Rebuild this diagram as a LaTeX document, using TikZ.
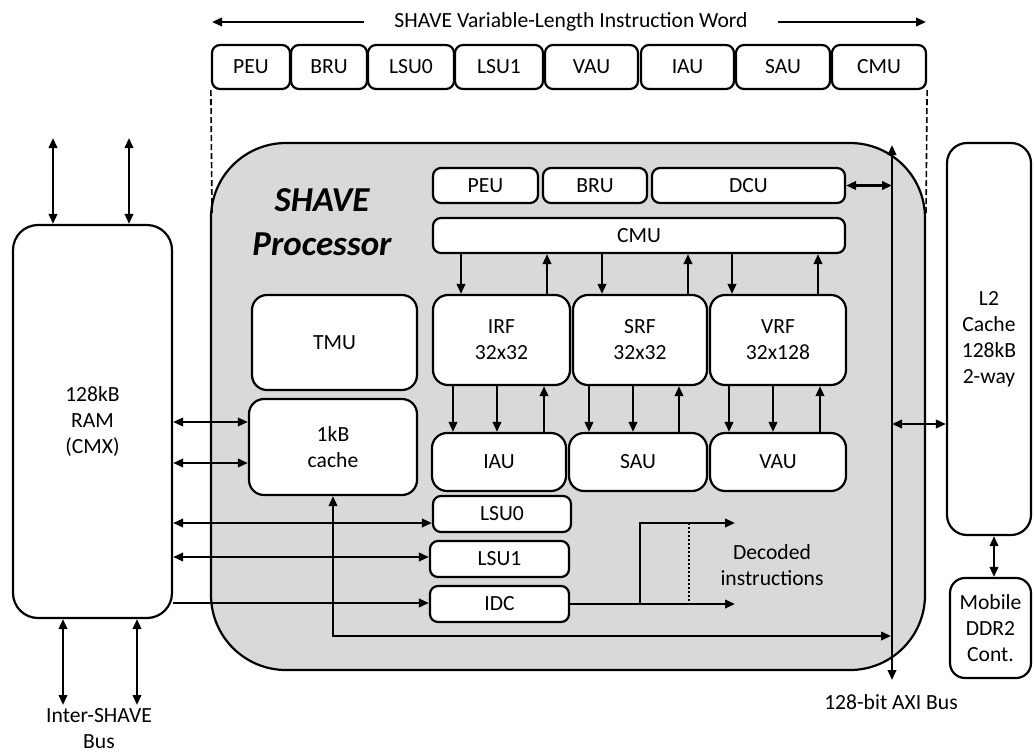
\documentclass[tikz,border=0pt]{standalone}
\usepackage{fontspec}
\setmainfont{Carlito}
\usetikzlibrary{arrows.meta,calc}
\definecolor{procgray}{HTML}{D9D9D9}
\newcommand\dgtxt{\fontsize{21.6}{26}\selectfont}
\newcommand\dgbig{\fontsize{35}{44}\selectfont\bfseries\itshape}
\begin{document}
\begin{tikzpicture}[x=1pt,y=-1pt,
  >={Triangle[length=10pt,width=8.5pt]},
  ln/.style={line width=2.2pt},
  box/.style={draw,line width=2.2pt,fill=white,rounded corners=8pt,inner sep=0pt,align=center,font=\dgtxt},
  bigbox/.style={box,rounded corners=15pt},
  lbl/.style={align=center,font=\dgtxt,inner sep=0pt}
]
\useasboundingbox (0,0) rectangle (1034,755);

% processor background
\node[draw,line width=2.2pt,fill=procgray,rounded corners=75pt,minimum width=714,minimum height=527,inner sep=0pt] (proc) at (568,406.5) {};

% instruction word
\node[lbl,inner xsep=30pt] (title) at (571,22) {SHAVE Variable-Length Instruction Word};
\coordinate (tl) at (212,22);
\coordinate (tr) at (926,22);
\draw[ln,->] (title.west) -- (tl);
\draw[ln,->] (title.east) -- (tr);

\node[box,minimum width=78,minimum height=44] (tpeu) at (251,67) {PEU};
\node[box,minimum width=76,minimum height=44] (tbru) at (329,67) {BRU};
\node[box,minimum width=86,minimum height=44] (tlsu0) at (411,67) {LSU0};
\node[box,minimum width=88,minimum height=44] (tlsu1) at (499,67) {LSU1};
\node[box,minimum width=93,minimum height=44] (tvau) at (591.5,67) {VAU};
\node[box,minimum width=93,minimum height=44] (tiau) at (687.5,67) {IAU};
\node[box,minimum width=94,minimum height=44] (tsau) at (783,67) {SAU};
\node[box,minimum width=94,minimum height=44] (tcmu) at (879,67) {CMU};

\coordinate (dl) at (212,214);
\coordinate (dr) at (926,214);
\draw[line width=1.6pt,dash pattern=on 6pt off 3pt] (tpeu.south west) -- (dl);
\draw[line width=1.6pt,dash pattern=on 6pt off 3pt] (tcmu.south east) -- (dr);

% processor title
\node[align=center,font=\dgbig,inner sep=0pt] (ptitle) at (322,222) {SHAVE\\Processor};

% inner units
\node[box,minimum width=105,minimum height=35] (ipeu) at (485.5,185.5) {PEU};
\node[box,minimum width=104,minimum height=35] (ibru) at (595,185.5) {BRU};
\node[box,minimum width=193,minimum height=35] (dcu) at (748.5,185.5) {DCU};
\node[box,minimum width=412,minimum height=35] (icmu) at (639,235.5) {CMU};

\node[bigbox,minimum width=137,minimum height=90] (irf) at (501.5,340) {IRF\\32x32};
\node[bigbox,minimum width=134,minimum height=90] (srf) at (640,340) {SRF\\32x32};
\node[bigbox,minimum width=136,minimum height=90] (vrf) at (778,340) {VRF\\32x128};

\node[bigbox,minimum width=134,minimum height=58] (iiau) at (499,462) {IAU};
\node[bigbox,minimum width=138,minimum height=58] (isau) at (638,462) {SAU};
\node[bigbox,minimum width=136,minimum height=58] (ivau) at (778,462) {VAU};

\node[box,minimum width=138,minimum height=36] (lsu0) at (502,514) {LSU0};
\node[box,minimum width=139,minimum height=36] (lsu1) at (499.5,559) {LSU1};
\node[box,minimum width=139,minimum height=36] (idc) at (499.5,604) {IDC};

\node[bigbox,minimum width=165,minimum height=95] (tmu) at (334.5,342.5) {TMU};
\node[bigbox,minimum width=168,minimum height=96] (cache) at (333,447) {1kB\\cache};

% outside blocks
\node[box,rounded corners=25pt,minimum width=159,minimum height=393] (ram) at (92.5,421.5) {128kB\\RAM\\(CMX)};
\node[box,rounded corners=20pt,minimum width=84,minimum height=392] (l2) at (989,339) {L2\\Cache\\128kB\\2-way};
\node[box,rounded corners=15pt,minimum width=81,minimum height=100] (ddr) at (990.5,628) {Mobile\\DDR2\\Cont.};

% CMU <-> register files
\draw[ln,->] (461,0 |- icmu.south) -- (461,0 |- irf.north);
\draw[ln,->] (547,0 |- irf.north) -- (547,0 |- icmu.south);
\draw[ln,->] (602,0 |- icmu.south) -- (602,0 |- srf.north);
\draw[ln,->] (688,0 |- srf.north) -- (688,0 |- icmu.south);
\draw[ln,->] (732,0 |- icmu.south) -- (732,0 |- vrf.north);
\draw[ln,->] (818,0 |- vrf.north) -- (818,0 |- icmu.south);

% register files <-> units
\draw[ln,->] (453,0 |- irf.south) -- (453,0 |- iiau.north);
\draw[ln,->] (497,0 |- irf.south) -- (497,0 |- iiau.north);
\draw[ln,->] (544,0 |- iiau.north) -- (544,0 |- irf.south);
\draw[ln,->] (589,0 |- srf.south) -- (589,0 |- isau.north);
\draw[ln,->] (633,0 |- srf.south) -- (633,0 |- isau.north);
\draw[ln,->] (679,0 |- isau.north) -- (679,0 |- srf.south);
\draw[ln,->] (729,0 |- vrf.south) -- (729,0 |- ivau.north);
\draw[ln,->] (773,0 |- vrf.south) -- (773,0 |- ivau.north);
\draw[ln,->] (820,0 |- ivau.north) -- (820,0 |- vrf.south);

% RAM top and bottom
\coordinate (rt1) at (53,138);
\coordinate (rt2) at (129,138);
\coordinate (rb1) at (63,705);
\coordinate (rb2) at (137,705);
\draw[ln,<->] (rt1) -- (rt1 |- ram.north);
\draw[ln,<->] (rt2) -- (rt2 |- ram.north);
\draw[ln,<->] (rb1 |- ram.south) -- (rb1);
\draw[ln,<->] (rb2 |- ram.south) -- (rb2);
\node[lbl] (isb) at (99,729) {Inter-SHAVE\\Bus};

% RAM to processor
\draw[ln,<->] (ram.east |- 0,422) -- (cache.west |- 0,422);
\draw[ln,<->] (ram.east |- 0,463) -- (cache.west |- 0,463);
\draw[ln,<->] (ram.east |- 0,523) -- (lsu0.west |- 0,523);
\draw[ln,<->] (ram.east |- 0,557) -- (lsu1.west |- 0,557);
\draw[ln,->] (ram.east |- 0,603) -- (idc.west |- 0,603);

% AXI bus
\coordinate (axt) at (892,145);
\coordinate (axb) at (892,680);
\draw[ln,<->] (axt) -- (axb);
\node[lbl] (axil) at (891,702) {128-bit AXI Bus};
\draw[ln,<->] (dcu.east) -- (dcu.east -| axt);
\draw[ln,<->] (axt |- 0,424) -- (l2.west |- 0,424);
\draw[ln,<->] (994,0 |- l2.south) -- (994,0 |- ddr.north);

% cache to bus
\coordinate (busc) at (891,636);
\draw[ln,<->] (cache.south) -- (cache.south |- busc) -- (busc);

% decoded instructions
\coordinate (d1) at (735,523);
\coordinate (d2) at (735,604);
\draw[ln,->] (idc.east) -- (d2);
\draw[ln,->] (640,0 |- idc.east) -- (640,0 |- d1) -- (d1);
\draw[line width=1.8pt,dash pattern=on 2pt off 2pt] (689,0 |- d1) -- (689,0 |- d2);
\node[lbl] (dec) at (772,565) {Decoded\\instructions};
\end{tikzpicture}
\end{document}
